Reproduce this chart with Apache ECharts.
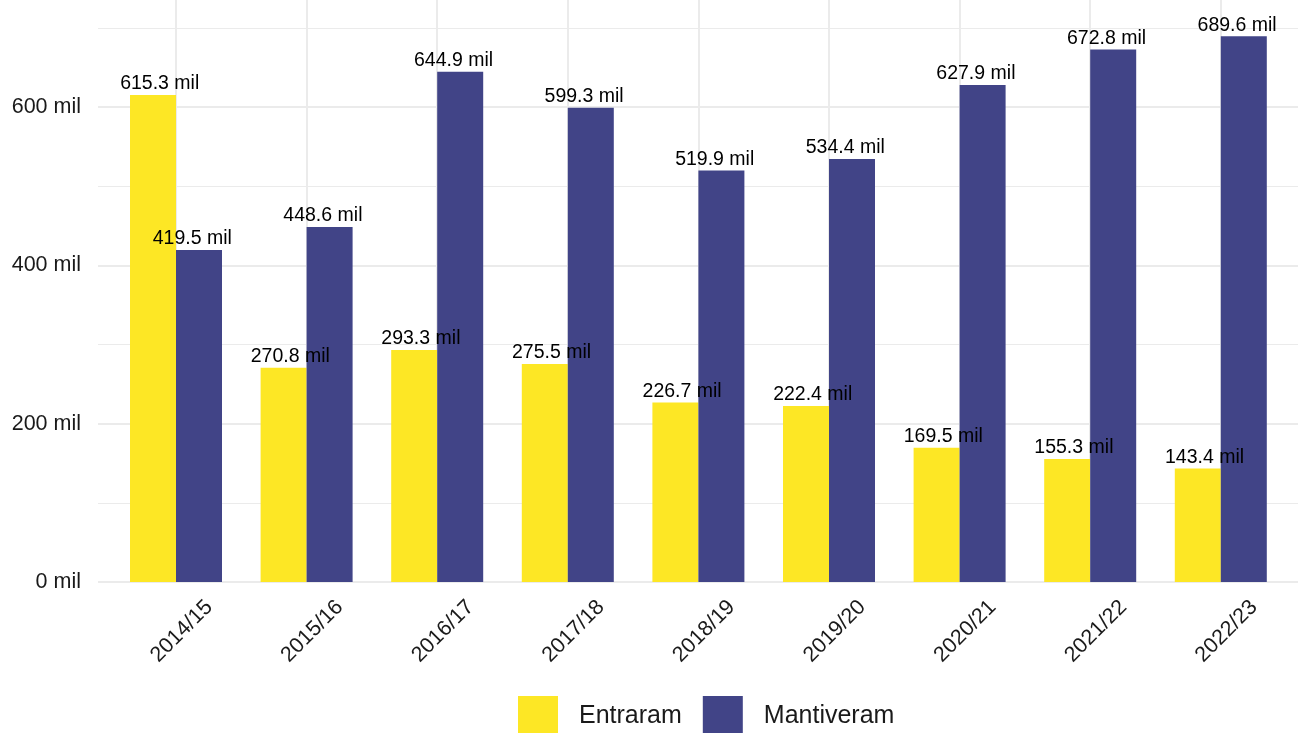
<!DOCTYPE html>
<html>
<head>
<meta charset="utf-8">
<title>Entraram e Mantiveram por ano letivo</title>
<script src="https://cdn.jsdelivr.net/npm/echarts@6/dist/echarts.min.js"></script>
<style>
  html, body { margin: 0; padding: 0; background: #ffffff; }
  #chart { width: 1298px; height: 733px; }
</style>
</head>
<body>
<div id="chart"></div>
<script>
// School years on the x axis
const categories = ['2014/15', '2015/16', '2016/17', '2017/18', '2018/19', '2019/20', '2020/21', '2021/22', '2022/23'];
// Values in thousands ("mil")
const entraram = [615.3, 270.8, 293.3, 275.5, 226.7, 222.4, 169.5, 155.3, 143.4];
const mantiveram = [419.5, 448.6, 644.9, 599.3, 519.9, 534.4, 627.9, 672.8, 689.6];
const seriesNames = ['Entraram', 'Mantiveram'];
const yTicks = [0, 200, 400, 600];

const colors = ['#FDE725', '#414487'];
const gridColor = '#EBEBEB';
const textColor = '#1a1a1a';
const font = '"Liberation Sans", Arial, sans-serif';

// value range with 5% headroom above the tallest bar
const dataMax = Math.max(...entraram, ...mantiveram);
const yMax = dataMax * 1.05;

const chart = echarts.init(document.getElementById('chart'), null, { renderer: 'canvas' });

const labelFmt = p => p.value.toFixed(1) + ' mil';

chart.setOption({
  animation: false,
  backgroundColor: '#ffffff',
  textStyle: { fontFamily: font },
  grid: [
    // full-width panel carrying the horizontal grid lines
    { left: 98, right: 0, top: 9, bottom: 151, containLabel: false, outerBoundsMode: 'none' },
    // category panel holding the bars
    { left: 110.7, width: 1175.4, top: 9, bottom: 151, containLabel: false, outerBoundsMode: 'none' }
  ],
  xAxis: [
    { type: 'value', gridIndex: 0, show: false, min: 0, max: 1 },
    {
      type: 'category', gridIndex: 1, data: categories, position: 'bottom',
      offset: 27,
      axisLine: { show: false },
      axisTick: {
        show: true, inside: true, alignWithLabel: true, length: 600,
        lineStyle: { color: gridColor, width: 2 }
      },
      splitLine: { show: false },
      axisLabel: {
        rotate: 45, margin: 28, fontSize: 21.5, color: textColor, fontFamily: font,
        padding: [0, -47, 0, 0], interval: 0
      }
    }
  ],
  yAxis: [
    {
      type: 'value', gridIndex: 0, min: 0, max: yMax, interval: 200,
      axisLine: { show: false }, axisTick: { show: false },
      axisLabel: {
        margin: 17, fontSize: 21.5, color: textColor, fontFamily: font,
        showMaxLabel: false,
        formatter: v => (yTicks.includes(v) ? v + ' mil' : '')
      },
      splitLine: { show: true, showMaxLine: false, lineStyle: { color: gridColor, width: 2 } }
    },
    {
      type: 'value', gridIndex: 0, min: 0, max: yMax, interval: 100,
      axisLine: { show: false }, axisTick: { show: false }, axisLabel: { show: false },
      splitLine: { show: true, showMaxLine: false, lineStyle: { color: gridColor, width: 1 } }
    },
    { type: 'value', gridIndex: 1, min: 0, max: yMax, show: false, splitLine: { show: false } }
  ],
  legend: {
    data: seriesNames,
    left: 518, top: 696, padding: 0,
    orient: 'horizontal',
    itemWidth: 40, itemHeight: 40, itemGap: 21,
    icon: 'rect',
    textStyle: { fontSize: 25, color: textColor, fontFamily: font, padding: [6, 0, 0, 16] }
  },
  series: [
    {
      name: seriesNames[0], type: 'bar', xAxisIndex: 1, yAxisIndex: 2,
      data: entraram, barWidth: 46, barGap: '0%', z: 3,
      itemStyle: { color: colors[0] },
      label: {
        show: true, position: 'top', distance: 1, offset: [6.7, 0],
        fontSize: 19.5, color: '#000', fontFamily: font, formatter: labelFmt
      }
    },
    {
      name: seriesNames[1], type: 'bar', xAxisIndex: 1, yAxisIndex: 2,
      data: mantiveram, barWidth: 46, barGap: '0%', z: 3,
      itemStyle: { color: colors[1] },
      label: {
        show: true, position: 'top', distance: 1, offset: [-6.7, 0],
        fontSize: 19.5, color: '#000', fontFamily: font, formatter: labelFmt
      }
    }
  ]
});
</script>
</body>
</html>
